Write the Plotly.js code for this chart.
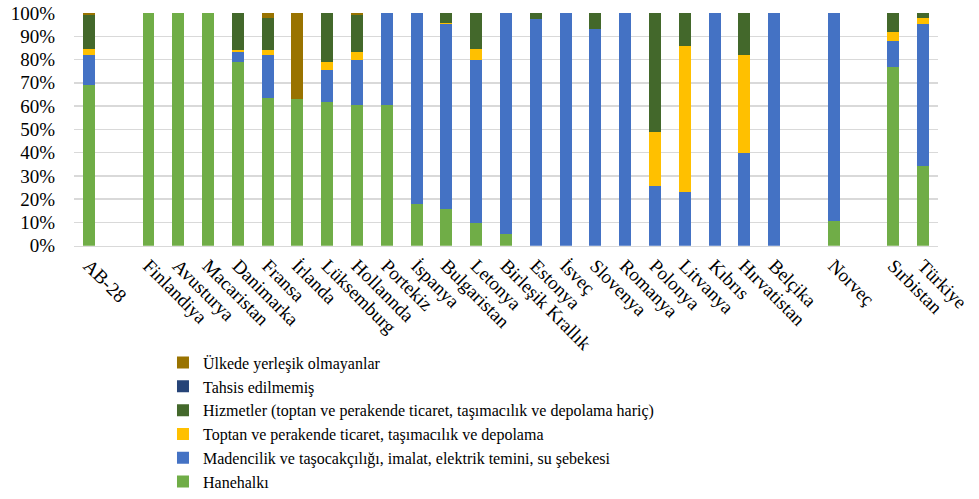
<!DOCTYPE html>
<html>
<head>
<meta charset="utf-8">
<script src="https://cdn.plot.ly/plotly-3.0.1.min.js"></script>
<style>
html,body{margin:0;padding:0;background:#fff;}
#chart{width:979px;height:499px;}
</style>
</head>
<body>
<div id="chart"></div>
<script>
const categories = ["AB-28", " ", "Finlandiya", "Avusturya", "Macaristan", "Danimarka", "Fransa", "İrlanda", "Lüksemburg", "Hollannda", "Portekiz", "İspanya", "Bulgaristan", "Letonya", "Birleşik Krallık", "Estonya", "İsveç", "Slovenya", "Romanya", "Polonya", "Litvanya", "Kıbrıs", "Hırvatistan", "Belçika", "  ", "Norveç", "   ", "Sırbistan", "Türkiye"];

const hanehalki   = [69.0, null, 100, 100, 100, 79.1, 63.6, 62.9, 61.7, 60.6, 60.6, 17.7, 15.7, 9.7, 4.9, 0, 0, 0, 0, 0, 0, 0, 0, 0, null, 10.4, null, 77.0, 34.3];
const madencilik  = [12.9, null, 0, 0, 0, 4.0, 18.3, 0, 13.7, 19.3, 39.4, 82.3, 79.4, 70.3, 95.1, 97.3, 100, 93.0, 100, 25.6, 23.1, 100, 39.7, 100, null, 89.6, null, 11.1, 61.1];
const toptan      = [2.7, null, 0, 0, 0, 0.8, 2.0, 0, 3.7, 3.2, 0, 0, 0.8, 4.7, 0, 0.2, 0, 0.3, 0, 23.4, 62.9, 0, 42.3, 0, null, 0, null, 3.6, 2.3];
const hizmetler   = [14.4, null, 0, 0, 0, 16.1, 14.0, 0, 20.9, 15.9, 0, 0, 4.1, 15.3, 0, 2.5, 0, 6.7, 0, 51.0, 14.0, 0, 18.0, 0, null, 0, null, 8.3, 2.3];
const tahsis      = [0, null, 0, 0, 0, 0, 0, 0, 0, 0, 0, 0, 0, 0, 0, 0, 0, 0, 0, 0, 0, 0, 0, 0, null, 0, null, 0, 0];
const ulkede      = [1.0, null, 0, 0, 0, 0, 2.1, 37.1, 0, 1.0, 0, 0, 0, 0, 0, 0, 0, 0, 0, 0, 0, 0, 0, 0, null, 0, null, 0, 0];

const seriesNames = [
  "Hanehalkı",
  "Madencilik ve taşocakçılığı, imalat, elektrik temini, su şebekesi",
  "Toptan ve perakende ticaret, taşımacılık ve depolama",
  "Hizmetler (toptan ve perakende ticaret, taşımacılık ve depolama hariç)",
  "Tahsis edilmemiş",
  "Ülkede yerleşik olmayanlar"
];
const seriesValues = [hanehalki, madencilik, toptan, hizmetler, tahsis, ulkede];
const seriesColors = ["#70AD47", "#4472C4", "#FFC000", "#43682B", "#264478", "#997300"];

const yTicks = [0, 10, 20, 30, 40, 50, 60, 70, 80, 90, 100];

const FONT = "Liberation Serif";

const traces = seriesNames.map((name, i) => ({
  type: "bar",
  name: name,
  x: categories,
  y: seriesValues[i],
  marker: {color: seriesColors[i], line: {width: 0}},
  hoverinfo: "x+y+name"
}));

const figH = 499;
const plotBottom = 247;
const domainBottom = (figH - plotBottom) / figH;

const layout = {
  width: 979,
  height: figH,
  barmode: "stack",
  barnorm: "percent",
  bargap: 0.6,
  paper_bgcolor: "#ffffff",
  plot_bgcolor: "#ffffff",
  margin: {l: 74, r: 41, t: 13, b: 0, pad: 0},
  font: {family: FONT, size: 19, color: "#000000"},
  xaxis: {
    type: "category",
    categoryorder: "array",
    categoryarray: categories,
    tickangle: 45,
    showgrid: false,
    showline: true,
    linecolor: "#d9d9d9",
    linewidth: 1.5,
    ticks: "",
    tickfont: {family: FONT, size: 19, color: "#000"},
    automargin: false
  },
  yaxis: {
    domain: [domainBottom, 1],
    range: [0, 100],
    tickvals: yTicks,
    ticktext: yTicks.map(v => v + "%"),
    showgrid: true,
    gridcolor: "#d9d9d9",
    gridwidth: 1.5,
    zeroline: false,
    showline: false,
    ticks: "",
    ticklabelstandoff: 18,
    tickfont: {family: FONT, size: 19, color: "#000"},
    automargin: false
  },
  showlegend: true,
  legend: {
    x: 0.103,
    xanchor: "left",
    y: (figH - 357) / (figH - 13),
    yanchor: "top",
    orientation: "v",
    traceorder: "reversed",
    font: {family: FONT, size: 16, color: "#000"},
    bgcolor: "rgba(0,0,0,0)",
    itemwidth: 30,
    tracegroupgap: 0,
    borderwidth: 0
  }
};

Plotly.newPlot("chart", traces, layout, {displayModeBar: false, staticPlot: true});
</script>
</body>
</html>
